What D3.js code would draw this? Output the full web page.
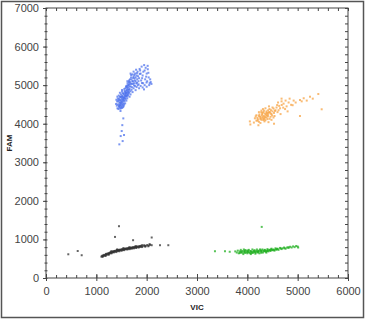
<!DOCTYPE html>
<html>
<head>
<meta charset="utf-8">
<script src="https://cdn.jsdelivr.net/npm/d3@7"></script>
<style>
  body { margin: 0; background: #fff; }
  svg { display: block; }
</style>
</head>
<body>
<svg id="chart" width="367" height="320"></svg>
<script>
// tick values
var majorTicksX = [0, 1000, 2000, 3000, 4000, 5000, 6000];
var majorTicksY = [0, 1000, 2000, 3000, 4000, 5000, 6000, 7000];

// clusters, [VIC, FAM]
var blueDots = [
  [1420,4400],[1440,4380],[1460,4420],[1480,4390],[1450,4460],[1470,4480],[1500,4450],[1430,4500],[1490,4520],[1520,4480],
  [1460,4550],[1510,4560],[1540,4530],[1480,4600],[1530,4620],[1560,4590],[1440,4580],[1500,4650],[1550,4680],[1580,4640],
  [1470,4700],[1520,4720],[1570,4740],[1600,4700],[1490,4760],[1540,4790],[1590,4800],[1620,4770],[1510,4830],[1560,4850],
  [1610,4870],[1640,4830],[1580,4920],[1630,4940],[1660,4900],[1600,4980],[1650,5010],[1680,4970],[1620,5050],[1670,5080],
  [1700,5040],[1650,5120],[1700,5150],[1730,5100],[1690,5200],[1740,5220],[1760,5170],[1720,5280],[1770,5300],[1800,5250],
  [1455,4440],[1485,4470],[1515,4510],[1475,4540],[1535,4580],[1505,4610],[1545,4660],[1525,4690],[1565,4710],[1545,4760],
  [1585,4770],[1575,4830],[1595,4860],[1615,4910],[1605,4950],[1635,4990],[1655,5040],[1645,4880],[1625,4820],[1595,4730],
  [1820,5350],[1860,5420],[1900,5480],[1950,5520],[1980,5450],[2020,5500],[1880,5300],[1920,5250],[1960,5380],[2000,5300],
  [2040,5200],[2080,5080],[2050,5000],[2010,5100],[1970,5150],[1930,5050],[1890,5120],[1850,5180],[1810,5060],[1770,4980],
  [1740,4920],[1800,4950],[1840,5020],[1880,4980],[1920,4940],[1960,5000],[2000,4960],[2060,5050],[1780,5100],[1830,5230],
  [1700,4880],[1720,4820],[1680,4760],[1660,4700],[1750,5050],[1870,5380],[1790,5400],[1740,5350],[1680,5300],[1990,5220],
  [2070,5150],[1910,5180],[1850,4920],[1780,4870],
  [1392,4512],[1407,4468],[1398,4621],[1413,4577],[1427,4653],[1418,4702],[1446,4731],[1437,4612],[1463,4498],[1452,4649],
  [1468,4802],[1481,4689],[1494,4567],[1503,4711],[1511,4874],[1527,4782],[1533,4431],[1552,4497],[1548,4623],[1556,4901],
  [1568,4667],[1573,4528],[1582,4719],[1589,4961],[1597,4598],[1603,4812],[1614,4657],[1622,4999],[1631,4733],[1638,4881],
  [1646,5082],[1653,4807],[1661,4958],[1669,5149],[1677,4843],[1684,5031],[1692,5261],[1707,4946],[1713,5102],[1725,5031],
  [1733,5187],[1748,4991],[1756,5262],[1763,5118],[1781,5203],[1793,5047],[1806,5311],[1812,5153],[1823,4998],[1837,5102],
  [1488,4418],[1512,4409],[1541,4462],[1467,4617],[1523,4657],[1498,4697],[1574,4797],[1611,4731],[1639,4780],[1617,5102],
  [1862,5290],[1934,5348],[2022,5412],[2095,5032],[1906,5055],[1947,4890],[1997,5068],[2034,5320],
  [1480,4330],[1536,4138],[1516,3963],[1504,3810],[1550,3707],[1484,3680],[1523,3550],[1457,3465]
];

var orangeDots = [
  [4130,4030],[4180,4080],[4230,4050],[4280,4100],[4200,4150],[4260,4180],[4310,4140],[4360,4090],[4330,4200],[4380,4160],
  [4410,4230],[4350,4260],[4300,4280],[4240,4240],[4430,4300],[4480,4250],[4460,4180],[4500,4320],[4380,4320],[4330,4340],
  [4530,4280],[4560,4350],[4280,4340],[4440,4380],[4400,4120],[4480,4100],[4540,4200],[4230,4300],[4180,4220],[4150,4140],
  [4360,4400],[4430,4450],[4500,4420],[4580,4420],[4600,4300],[4340,4060],[4260,4020],[4420,4040],[4520,4160],[4290,4220],
  [4370,4230],[4450,4300],[4210,4110],[4320,4300],[4390,4270],[4270,4140],[4470,4350],[4410,4190],[4340,4150],[4310,4380],
  [4243,4186],[4318,4097],[4387,4211],[4462,4263],[4297,4248],[4356,4174],[4418,4277],[4202,4078],[4276,4298],[4492,4213],
  [4337,4119],[4413,4346],[4166,4189],[4548,4331],[4257,4127],[4443,4128],[4382,4287],[4228,4205],[4521,4392],[4304,4176],
  [4683,4486],[4650,4400],[4720,4520],[4780,4450],[4680,4580],[4820,4550],[4870,4490],[4920,4600],[4960,4550],[5046,4615],
  [5080,4580],[5120,4660],[5245,4700],[5300,4650],[5410,4770],[5477,4374],[5046,4200],[4620,4350],[4750,4380],[4660,4250],
  [4800,4320],[4900,4480],[4840,4650],[4060,3980],[4050,4060],[4220,3960],[4530,4000],[4760,4600],[5180,4600],[4680,4650],
  [4610,4550],[4713,4417],[4592,4483],[4633,4462]
];

var blackDots = [
  [1100,555],[1115,575],[1130,565],[1140,590],[1160,600],[1175,585],[1190,615],[1205,600],[1220,630],[1240,640],
  [1235,615],[1260,650],[1280,640],[1290,670],[1310,660],[1320,690],[1340,675],[1355,700],[1370,685],[1385,710],
  [1400,695],[1410,725],[1430,705],[1445,730],[1460,715],[1480,740],[1495,720],[1510,745],[1530,730],[1545,760],
  [1560,740],[1580,765],[1600,745],[1615,775],[1630,755],[1650,780],[1670,765],[1690,790],[1710,775],[1730,800],
  [1750,785],[1770,810],[1790,795],[1810,820],[1830,800],[1850,825],[1870,810],[1890,835],[1920,820],[1950,845],
  [1980,830],[2010,855],[2040,840],[2070,860],[2100,850],[1150,580],[1250,630],[1330,680],[1420,710],[1470,725],
  [1520,740],[1570,752],[1640,770],[1720,788],[1800,805],[1880,822],[1960,838],[1195,625],[1275,660],[1365,695],
  [1440,720],[1590,755],[1680,775],[1760,795],[1860,815],
  [1123,548],[1184,571],[1247,603],[1302,641],[1347,663],[1398,672],[1456,693],[1503,708],[1553,722],[1617,741],
  [1661,748],[1704,761],[1745,769],[1792,778],[1843,791],[1906,802],[1972,811],[2032,822],[1296,693],[1414,742],
  [1537,774],[1657,801],[1782,826],[1912,852],[2058,878],
  [443,615],[630,700],[709,590],[1450,1343],[1371,1065],[2265,850],[2430,850],[1730,980],[2100,1050]
];

var greenDots = [
  [3760,690],[3790,660],[3810,710],[3830,640],[3850,690],[3870,730],[3880,660],[3900,700],[3920,620],[3930,740],
  [3950,680],[3960,650],[3980,710],[4000,640],[4010,690],[4030,730],[4040,660],[4060,700],[4070,620],[4090,680],
  [4100,740],[4110,650],[4130,710],[4150,670],[4160,630],[4180,700],[4190,740],[4210,660],[4230,690],[4240,640],
  [4260,720],[4280,680],[4300,740],[4310,660],[4330,700],[4350,730],[4370,680],[4390,710],[4400,750],[4420,690],
  [4440,730],[4460,700],[4480,760],[4500,720],[4520,740],[4540,710],[4560,770],[4580,740],[4600,760],[4620,730],
  [4650,780],[4680,750],[4700,770],[4730,790],[4760,760],[4790,790],[4820,780],[4850,810],[4880,790],[4910,820],
  [4940,800],[4970,830],[5000,815],[5010,790],[3900,660],[3990,670],[4070,690],[4140,690],[4220,710],[4290,710],
  [4360,700],[4450,720],[3850,650],[3940,700],[4020,670],[4120,680],[4200,680],[4270,700],[4340,690],[4410,720],
  [4490,730],[4570,740],
  [3873,683],[3937,662],[4012,712],[4083,652],[4147,718],[4213,688],[4276,654],[4338,722],[4402,698],[4467,741],
  [4531,723],[4598,748],[4663,766],[4742,771],[4817,799],[3958,724],[4058,643],[4169,661],[4253,742],[4378,658],
  [3357,694],[3556,694],[3650,680],[4286,1325]
];

var clusters = [
  { dots: blackDots, color: "#333333" },
  { dots: greenDots, color: "#22b022" },
  { dots: orangeDots, color: "#f7a445" },
  { dots: blueDots, color: "#4f73ec" }
];

var svg = d3.select("#chart");
var plotLeft = 46, plotRight = 348, plotTop = 8, plotBottom = 278;

var x = d3.scaleLinear().domain([0, 6000]).range([plotLeft, plotRight]);
var y = d3.scaleLinear().domain([0, 7000]).range([plotBottom, plotTop]);

var minorX = d3.range(0, 6001, 200);
var minorY = d3.range(0, 7001, 200);

// outer frame
svg.append("rect")
  .attr("x", 1.5).attr("y", 1.5)
  .attr("width", 362).attr("height", 316)
  .style("fill", "none")
  .style("stroke", "#555")
  .style("stroke-width", 1.5);

// plot box
svg.append("rect")
  .attr("x", plotLeft).attr("y", plotTop)
  .attr("width", plotRight - plotLeft).attr("height", plotBottom - plotTop)
  .style("fill", "none")
  .style("stroke", "#444")
  .style("stroke-width", 1);

function styleAxis(g) {
  g.select(".domain").remove();
  g.selectAll("line").style("stroke", "#444");
  g.selectAll("text")
    .style("font-family", "Liberation Sans, Arial, sans-serif")
    .style("font-size", "11px")
    .style("fill", "#444");
}

// bottom
svg.append("g").attr("transform", "translate(0," + plotBottom + ")")
  .call(d3.axisBottom(x).tickValues(majorTicksX).tickSize(3).tickPadding(6).tickFormat(d3.format("d")))
  .call(styleAxis);
svg.append("g").attr("transform", "translate(0," + plotBottom + ")")
  .call(d3.axisBottom(x).tickValues(minorX).tickSize(-3).tickFormat(""))
  .call(styleAxis);
svg.append("g").attr("transform", "translate(0," + plotBottom + ")")
  .call(d3.axisBottom(x).tickValues(majorTicksX).tickSize(-4).tickFormat(""))
  .call(styleAxis);

// left
svg.append("g").attr("transform", "translate(" + plotLeft + ",0)")
  .call(d3.axisLeft(y).tickValues(majorTicksY).tickSize(3).tickPadding(4).tickFormat(d3.format("d")))
  .call(styleAxis);
svg.append("g").attr("transform", "translate(" + (plotLeft + 1.5) + ",0)")
  .call(d3.axisLeft(y).tickValues(minorY).tickSize(3).tickFormat(""))
  .call(styleAxis);

// top and right, inner ticks only
svg.append("g").attr("transform", "translate(0," + plotTop + ")")
  .call(d3.axisTop(x).tickValues(minorX).tickSize(-3).tickFormat(""))
  .call(styleAxis);
svg.append("g").attr("transform", "translate(" + plotRight + ",0)")
  .call(d3.axisRight(y).tickValues(minorY).tickSize(-3).tickFormat(""))
  .call(styleAxis);

// axis titles
svg.append("text")
  .attr("x", (plotLeft + plotRight) / 2).attr("y", 310)
  .attr("text-anchor", "middle")
  .style("font-family", "Liberation Sans, Arial, sans-serif")
  .style("font-size", "8px").style("font-weight", "bold").style("fill", "#222")
  .text("VIC");

svg.append("text")
  .attr("transform", "translate(12," + ((plotTop + plotBottom) / 2) + ") rotate(-90)")
  .attr("text-anchor", "middle")
  .style("font-family", "Liberation Sans, Arial, sans-serif")
  .style("font-size", "8px").style("font-weight", "bold").style("fill", "#222")
  .text("FAM");

// dots
clusters.forEach(function(c) {
  svg.append("g").selectAll("rect")
    .data(c.dots)
    .enter()
    .append("rect")
    .attr("x", function(d) { return x(d[0]) - 1; })
    .attr("y", function(d) { return y(d[1]) - 1; })
    .attr("width", 2)
    .attr("height", 2)
    .style("fill", c.color)
    .style("opacity", 0.75);
});
</script>
</body>
</html>
